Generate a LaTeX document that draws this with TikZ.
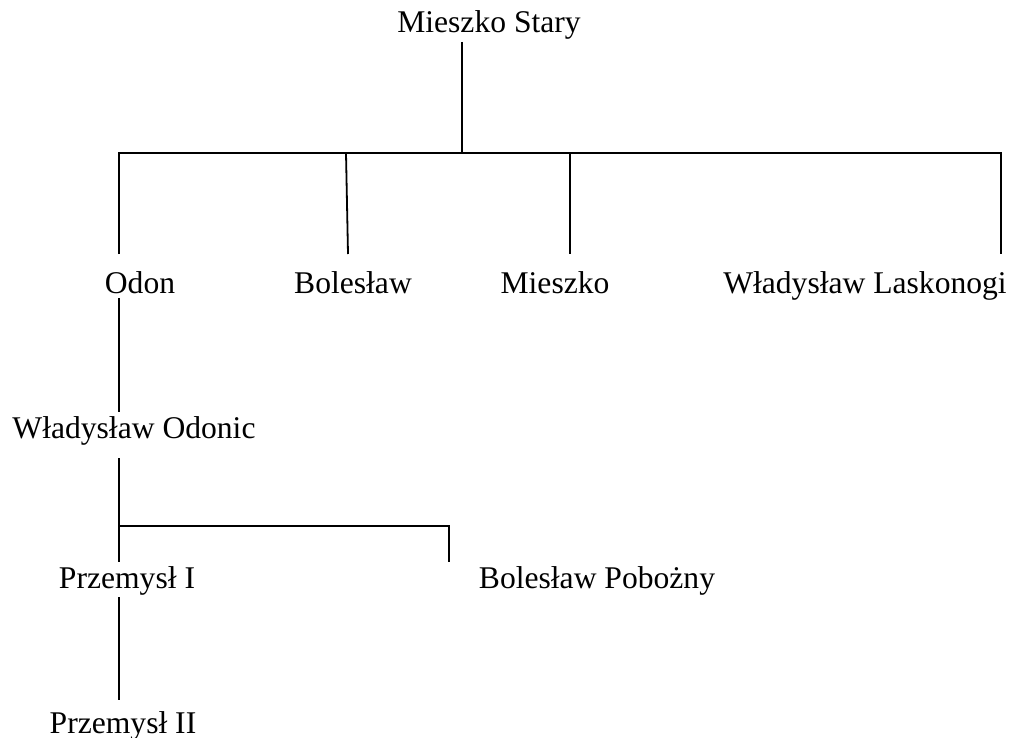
\documentclass[tikz,border=0pt]{standalone}
\usepackage{fontspec}
\setmainfont{Liberation Serif}
\begin{document}
\begin{tikzpicture}[x=1pt,y=-1pt,
  person/.style={anchor=base,inner sep=0pt,font=\fontsize{31.6}{38}\selectfont},
  link/.style={line width=1.8pt,line cap=butt}]
\useasboundingbox (0,0) rectangle (1011,738);
% people
\node[person] (ms) at (489,33) {Mieszko Stary};
\node[person] (odon) at (140,293) {Odon};
\node[person] (bol) at (353,293) {Bolesław};
\node[person] (mie) at (555,293) {Mieszko};
\node[person] (wl) at (865,293) {Władysław Laskonogi};
\node[person] (wo) at (134,438) {Władysław Odonic};
\node[person] (p1) at (127,588) {Przemysł I};
\node[person] (bp) at (597,588) {Bolesław Pobożny};
\node[person] (p2) at (123,733) {Przemysł II};
% junction and end points
\coordinate (msB) at (462,42);
\coordinate (j1) at (462,153);
\coordinate (odonT) at (119,254);
\coordinate (bolJ) at (346,153);
\coordinate (bolT) at (348,254);
\coordinate (mieT) at (570,254);
\coordinate (wlT) at (1001,254);
\coordinate (odonB) at (119,298);
\coordinate (woT) at (119,412);
\coordinate (woB) at (119,458);
\coordinate (j2) at (119,526);
\coordinate (p1T) at (119,562);
\coordinate (bpT) at (449,562);
\coordinate (p1B) at (119,597);
\coordinate (p2T) at (119,700);
% connectors
\draw[link] (msB) -- (j1);
\draw[link] (odonT) |- (wlT |- j1) -- (wlT);
\draw[link] (bolJ) -- (bolT);
\draw[link] (mieT |- j1) -- (mieT);
\draw[link] (odonB) -- (woT);
\draw[link] (woB) -- (p1T);
\draw[link] (j2) -| (bpT);
\draw[link] (p1B) -- (p2T);
\end{tikzpicture}
\end{document}
